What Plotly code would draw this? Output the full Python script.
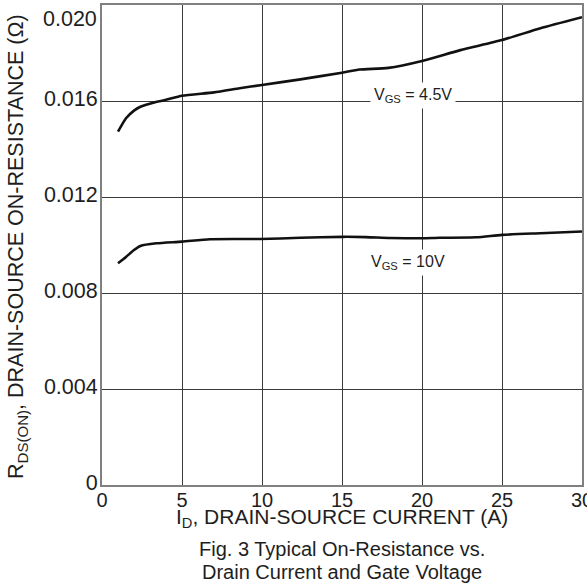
import plotly.graph_objects as go

# Data
I_45 = [1.0, 1.5, 2.0, 2.4, 3.2, 4.0, 5.0, 7.0, 8.6, 10.0, 12.4, 15.0, 16.1, 17.9, 20.0, 22.4, 25.0, 27.4, 30.0]
R_45 = [0.01472, 0.01528, 0.0156, 0.01576, 0.01593, 0.01605, 0.01622, 0.01636, 0.01653, 0.01667,
        0.0169, 0.01718, 0.01731, 0.01738, 0.01767, 0.01812, 0.01854, 0.01903, 0.01949]

I_10 = [1.0, 1.5, 2.0, 2.4, 3.4, 5.0, 6.75, 9.9, 12.4, 15.0, 16.5, 18.0, 20.0, 21.1, 23.4, 25.0, 27.4, 30.0]
R_10 = [0.00924, 0.0095, 0.00979, 0.00996, 0.01007, 0.01014, 0.01024, 0.01025, 0.0103, 0.01034,
        0.01033, 0.01029, 0.01028, 0.0103, 0.01032, 0.01042, 0.01049, 0.01056]

x_ticks = [0, 5, 10, 15, 20, 25, 30]
x_tick_labels = ["0", "5", "10", "15", "20", "25", "30"]
y_ticks = [0, 0.004, 0.008, 0.012, 0.016, 0.020]
y_tick_labels = ["0", "0.004", "0.008", "0.012", "0.016", "0.020"]

FONT = "Liberation Sans, Arial, sans-serif"
TXT = "#1e1e1e"

fig = go.Figure()
for xs, ys in [(I_45, R_45), (I_10, R_10)]:
    fig.add_trace(go.Scatter(x=xs, y=ys, mode="lines",
                             line=dict(color="#111111", width=2.6, shape="spline", smoothing=0.6),
                             showlegend=False, hoverinfo="skip"))

# the top y label sits just below the frame edge in the reference -> draw it as an annotation
ytext_axis = y_tick_labels[:-1] + [""]

fig.update_layout(
    width=587, height=586,
    margin=dict(l=102, r=5, t=5, b=101),
    paper_bgcolor="white", plot_bgcolor="white",
    font=dict(family=FONT, color=TXT, size=20),
    xaxis=dict(range=[0, 30], tickvals=x_ticks, ticktext=x_tick_labels,
               showgrid=True, gridcolor="#3a3a3a", gridwidth=1,
               showline=True, linecolor="#808080", linewidth=2, mirror=True,
               zeroline=False, ticks="", ticklabelstandoff=-4, automargin=False,
               ticklabeloverflow="allow",
               tickfont=dict(size=20, family=FONT, color=TXT)),
    yaxis=dict(range=[0, 0.020], tickvals=y_ticks, ticktext=ytext_axis,
               showgrid=True, gridcolor="#3a3a3a", gridwidth=1,
               showline=True, linecolor="#808080", linewidth=2, mirror=True,
               zeroline=False, ticks="", automargin=False, ticklabelstandoff=-2,
               ticklabelshift=-3, ticklabeloverflow="allow",
               tickfont=dict(size=21.5, family=FONT, color=TXT)),
    annotations=[
        dict(x=0, y=y_ticks[-1], xref="paper", yref="y", xanchor="right", yanchor="top",
             xshift=-3, yshift=0, text=y_tick_labels[-1], showarrow=False,
             font=dict(size=21.5, family=FONT, color=TXT)),
        dict(x=19.45, y=0.01625, xref="x", yref="y", text="V<sub>GS</sub> = 4.5V",
             showarrow=False, bgcolor="white", font=dict(size=16, family=FONT, color=TXT),
             borderpad=3),
        dict(x=19.1, y=0.00929, xref="x", yref="y", text="V<sub>GS</sub> = 10V",
             showarrow=False, bgcolor="white", font=dict(size=16, family=FONT, color=TXT),
             borderpad=3),
        dict(x=0.5, y=-33/480, xref="paper", yref="paper", yanchor="middle",
             text="I<sub>D</sub>, DRAIN-SOURCE CURRENT (A)", showarrow=False,
             font=dict(size=21, family=FONT, color=TXT)),
        dict(x=0.5, y=-64/480, xref="paper", yref="paper", yanchor="middle",
             text="Fig. 3 Typical On-Resistance vs.", showarrow=False,
             font=dict(size=20, family=FONT, color=TXT)),
        dict(x=0.5, y=-87/480, xref="paper", yref="paper", yanchor="middle",
             text="Drain Current and Gate Voltage", showarrow=False,
             font=dict(size=20, family=FONT, color=TXT)),
        dict(x=-84/480, y=0.496, xref="paper", yref="paper", xanchor="center", yanchor="middle",
             text="R<sub>DS(ON)</sub>, DRAIN-SOURCE ON-RESISTANCE (Ω)", showarrow=False,
             textangle=-90, font=dict(size=21.5, family=FONT, color=TXT)),
    ],
)

fig.write_html("out.html", config={"displayModeBar": False},
               post_script="document.body.style.margin='0';document.body.style.overflow='hidden';")
